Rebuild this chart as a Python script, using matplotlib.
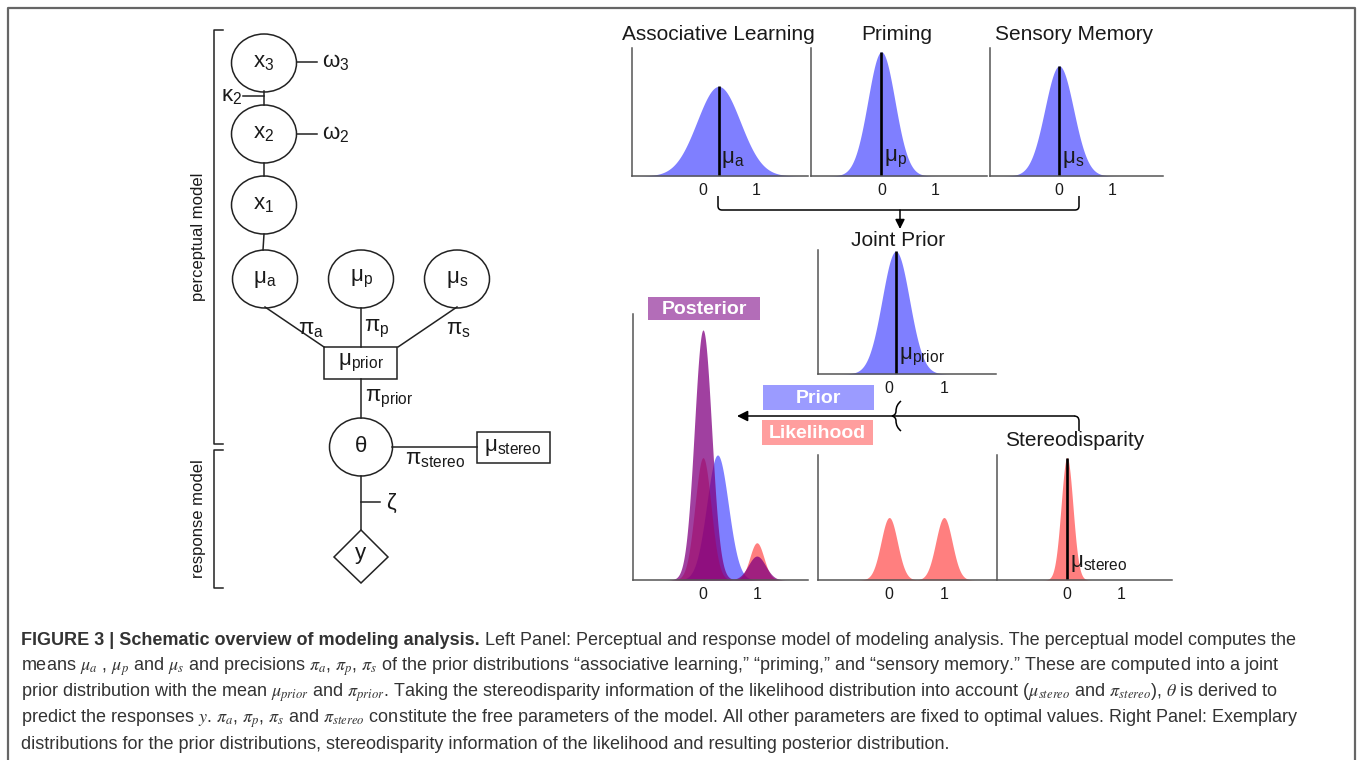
import numpy as np
import matplotlib
matplotlib.use("Agg")
import matplotlib.pyplot as plt
from matplotlib.patches import Ellipse, Rectangle, Polygon, PathPatch
from matplotlib.path import Path

plt.rcParams["font.family"] = ["Liberation Sans", "DejaVu Sans"]

W, H = 1358, 760

BLUE = "#0000ff"
RED = "#ff0000"
PURPLE = "#800080"
INK = "#1a1a1a"

# prior sources (top row): mean, sd, peak height
prior_titles = ["Associative Learning", "Priming", "Sensory Memory"]
prior_subs = ["a", "p", "s"]
prior_means = [0.30, 0.0, 0.0]
prior_sds = [0.40, 0.25, 0.27]
prior_peaks = [0.70, 0.97, 0.86]

# combined prior
joint_mean, joint_sd, joint_peak = 0.12, 0.25, 0.99

# bimodal likelihood and stereodisparity cue
lik_means = [0.0, 1.0]
lik_sds = [0.15, 0.15]
lik_peaks = [0.50, 0.50]
stereo_mean, stereo_sd, stereo_peak = 0.0, 0.11, 0.98

# posterior panel overlays
post_prior_mean, post_prior_sd, post_prior_peak = 0.27, 0.20, 0.47
post_lik_sds = [0.15, 0.13]
post_lik_peaks = [0.46, 0.14]
post_means = [0.0, 1.0]
post_sds = [0.16, 0.16]
post_peaks = [0.94, 0.09]

tick_vals = [0, 1]
x_lo, x_hi = -1.3, 1.95
xs = np.linspace(x_lo, x_hi, 600)


def gauss(m, s, peak):
    return peak * np.exp(-0.5 * ((xs - m) / s) ** 2)


fig = plt.figure(figsize=(W / 100, H / 100), dpi=100)
bg = fig.add_axes([0, 0, 1, 1])
bg.set_xlim(0, W)
bg.set_ylim(H, 0)
bg.axis("off")


def panel(x0, y0, x1, y1):
    ax = fig.add_axes([x0 / W, 1 - y1 / H, (x1 - x0) / W, (y1 - y0) / H])
    ax.patch.set_visible(False)
    ax.set_xlim(x_lo, x_hi)
    ax.set_ylim(0, 1)
    for side in ("top", "right"):
        ax.spines[side].set_visible(False)
    for side in ("left", "bottom"):
        ax.spines[side].set_color("#555555")
        ax.spines[side].set_linewidth(1.1)
    ax.set_xticks(tick_vals)
    ax.set_xticklabels([str(t) for t in tick_vals])
    ax.set_yticks([])
    ax.tick_params(axis="x", length=0, pad=5, labelsize=11.5, labelcolor=INK)
    return ax


def mean_line(ax, m, top, sub):
    ax.plot([m, m], [0, top], color="black", lw=1.9, solid_capstyle="butt")
    ax.text(m + 0.05, 0.05, r"$\mathregular{\mu_{%s}}$" % sub, fontsize=16,
            ha="left", va="bottom", color=INK)


# ---- top row: three prior sources ----
top_x = [(632, 808), (811, 987), (990, 1163)]
for (x0, x1), title, m, s, pk, sub in zip(top_x, prior_titles, prior_means,
                                         prior_sds, prior_peaks, prior_subs):
    ax = panel(x0, 48, x1, 176)
    ax.fill_between(xs, gauss(m, s, pk), color=BLUE, alpha=0.5, lw=0)
    mean_line(ax, m, pk, sub)
    bg.text((x0 + x1) / 2 - 2, 34, title, fontsize=15, ha="center",
            va="center", color=INK)

# ---- joint prior ----
ax = panel(818, 250, 996, 374)
ax.fill_between(xs, gauss(joint_mean, joint_sd, joint_peak), color=BLUE,
                alpha=0.5, lw=0)
mean_line(ax, joint_mean, joint_peak, "prior")
bg.text(898, 240, "Joint Prior", fontsize=15, ha="center", va="center",
        color=INK)

# ---- likelihood ----
ax = panel(818, 455, 996, 580)
for m, s, pk in zip(lik_means, lik_sds, lik_peaks):
    ax.fill_between(xs, gauss(m, s, pk), color=RED, alpha=0.5, lw=0)

# ---- stereodisparity ----
ax = panel(997, 455, 1172, 580)
ax.fill_between(xs, gauss(stereo_mean, stereo_sd, stereo_peak), color=RED,
                alpha=0.5, lw=0)
mean_line(ax, stereo_mean, stereo_peak, "stereo")
bg.text(1075, 441, "Stereodisparity", fontsize=15, ha="center", va="center",
        color=INK)

# ---- posterior ----
ax = panel(633, 314, 808, 580)
ax.fill_between(xs, gauss(post_prior_mean, post_prior_sd, post_prior_peak),
                color=BLUE, alpha=0.5, lw=0)
lik_curve = sum(gauss(m, s, pk) for m, s, pk in
                zip(lik_means, post_lik_sds, post_lik_peaks))
ax.fill_between(xs, lik_curve, color=RED, alpha=0.5, lw=0)
post_curve = sum(gauss(m, s, pk) for m, s, pk in
                 zip(post_means, post_sds, post_peaks))
ax.fill_between(xs, post_curve, color=PURPLE, alpha=0.75, lw=0)

# labelled colour keys
keys = [("Posterior", 648, 297, 112, 23, "#b36db8"),
        ("Prior", 763, 385, 111, 25, "#9b9bff"),
        ("Likelihood", 762, 420, 111, 25, "#ff9e9e")]
for label, kx, ky, kw, kh, kc in keys:
    bg.add_patch(Rectangle((kx, ky), kw, kh, fc=kc, ec="none"))
    bg.text(kx + kw / 2, ky + kh / 2 + 1, label, fontsize=14,
            fontweight="bold", color="white", ha="center", va="center")

# ---- connectors in the right panel ----
bracket = Path([(718, 196), (718, 206), (718, 210), (722, 210),
                (1075, 210), (1079, 210), (1079, 206), (1079, 196)],
               [Path.MOVETO, Path.LINETO, Path.CURVE3, Path.CURVE3,
                Path.LINETO, Path.CURVE3, Path.CURVE3, Path.LINETO])
bg.add_patch(PathPatch(bracket, fc="none", ec="black", lw=1.1))
bg.annotate("", xy=(900, 229), xytext=(900, 210),
            arrowprops=dict(arrowstyle="-|>", color="black", lw=1.1,
                            mutation_scale=14, shrinkA=0, shrinkB=0))

corner = Path([(1079, 431), (1079, 421), (1079, 416), (1074, 416)],
              [Path.MOVETO, Path.LINETO, Path.CURVE3, Path.CURVE3])
bg.add_patch(PathPatch(corner, fc="none", ec="black", lw=1.1))
bg.annotate("", xy=(737, 416), xytext=(1074, 416),
            arrowprops=dict(arrowstyle="-|>", color="black", lw=1.1,
                            mutation_scale=16, shrinkA=0, shrinkB=0))
brace = Path([(901, 401), (896, 405), (896, 411), (896, 415), (892, 416),
              (896, 417), (896, 421), (896, 427), (901, 431)],
             [Path.MOVETO, Path.CURVE3, Path.CURVE3, Path.CURVE3, Path.CURVE3,
              Path.CURVE3, Path.CURVE3, Path.CURVE3, Path.CURVE3])
bg.add_patch(PathPatch(brace, fc="none", ec="black", lw=1.1))

# ---- left panel: graphical model ----
dl = dict(color="#222222", lw=1.1)
nfs = 16


def node(cx, cy, label, w=65, h=58):
    bg.add_patch(Ellipse((cx, cy), w, h, fc="white", ec="#222222", lw=1.1))
    bg.text(cx, cy, r"$\mathregular{%s}$" % label, fontsize=nfs,
            ha="center", va="center", color=INK)


def mtext(x, y, label, ha="left", fs=nfs):
    bg.text(x, y, r"$\mathregular{%s}$" % label, fontsize=fs, ha=ha,
            va="center", color=INK)


# edges first, nodes on top
bg.plot([264, 264], [91, 105], **dl)
bg.plot([264, 264], [163, 176], **dl)
bg.plot([264, 263], [234, 250], **dl)
bg.plot([243, 264], [96, 96], **dl)
bg.plot([297, 317], [62, 62], **dl)
bg.plot([297, 317], [134, 134], **dl)
bg.plot([265, 324], [307, 347], **dl)
bg.plot([361, 361], [308, 347], **dl)
bg.plot([457, 398], [307, 347], **dl)
bg.plot([361, 361], [379, 418], **dl)
bg.plot([392, 477], [447, 447], **dl)
bg.plot([361, 361], [476, 530], **dl)
bg.plot([361, 380], [502, 502], **dl)

node(264, 63, "x_3")
node(264, 134, "x_2")
node(264, 205, "x_1")
node(265, 279, r"\mu_a")
node(361, 279, r"\mu_p")
node(457, 279, r"\mu_s")
node(361, 447, r"\theta", w=63)

mtext(322, 63, r"\omega_3")
mtext(322, 135, r"\omega_2")
mtext(242, 97, r"\kappa_2", ha="right")
mtext(298, 329, r"\pi_a")
mtext(364, 329, r"\pi_p")
mtext(446, 329, r"\pi_s")
mtext(365, 399, r"\pi_{prior}")
mtext(405, 460, r"\pi_{stereo}")
mtext(386, 503, r"\zeta")

bg.add_patch(Rectangle((324, 347), 73, 32, fc="white", ec="#222222", lw=1.1))
bg.text(361, 363, r"$\mathregular{\mu_{prior}}$", fontsize=nfs, ha="center",
        va="center", color=INK)
bg.add_patch(Rectangle((477, 432), 73, 31, fc="white", ec="#222222", lw=1.1))
bg.text(513, 447, r"$\mathregular{\mu_{stereo}}$", fontsize=nfs,
        ha="center", va="center", color=INK)
bg.add_patch(Polygon([(361, 530), (388, 557), (361, 583), (334, 557)],
                     closed=True, fc="white", ec="#222222", lw=1.1))
bg.text(361, 556, r"$\mathregular{y}$", fontsize=nfs, ha="center",
        va="center", color=INK)

# model brackets
bg.plot([223, 214, 214, 223], [30, 30, 444, 444], **dl)
bg.plot([223, 214, 214, 223], [450, 450, 588, 588], **dl)
bg.text(199, 237, "perceptual model", rotation=90, fontsize=12,
        ha="center", va="center", color=INK)
bg.text(199, 519, "response model", rotation=90, fontsize=12,
        ha="center", va="center", color=INK)

# ---- frame ----
bg.plot([7.5, 7.5, 1354.5, 1354.5], [H, 8, 8, H], color="#666666", lw=1.6)

# ---- caption ----
cfs = 13.0
ccol = "#333333"
t1 = bg.text(21, 645, "FIGURE 3 | Schematic overview of modeling analysis.",
             fontsize=cfs, fontweight="bold", color=ccol, ha="left",
             va="baseline")
bg.annotate(" Left Panel: Perceptual and response model of modeling analysis. "
            "The perceptual model computes the",
            xy=(1, 0), xycoords=t1, fontsize=cfs, color=ccol, ha="left",
            va="bottom")
caption_lines = [
    r"means $\mu_a$ , $\mu_p$ and $\mu_s$ and precisions $\pi_a$, $\pi_p$, "
    r"$\pi_s$ of the prior distributions “associative learning,” “priming,” "
    r"and “sensory memory.” These are computed into a joint",
    r"prior distribution with the mean $\mu_{prior}$ and $\pi_{prior}$. Taking "
    r"the stereodisparity information of the likelihood distribution into "
    r"account ($\mu_{stereo}$ and $\pi_{stereo}$), $\theta$ is derived to",
    r"predict the responses $y$. $\pi_a$, $\pi_p$, $\pi_s$ and $\pi_{stereo}$ "
    r"constitute the free parameters of the model. All other parameters are "
    r"fixed to optimal values. Right Panel: Exemplary",
    "distributions for the prior distributions, stereodisparity information "
    "of the likelihood and resulting posterior distribution.",
]
for i, line in enumerate(caption_lines):
    bg.text(21, 671 + 26 * i, line, fontsize=cfs, color=ccol, ha="left",
            va="baseline", math_fontfamily="stix")

fig.savefig("out.png", dpi=100)
